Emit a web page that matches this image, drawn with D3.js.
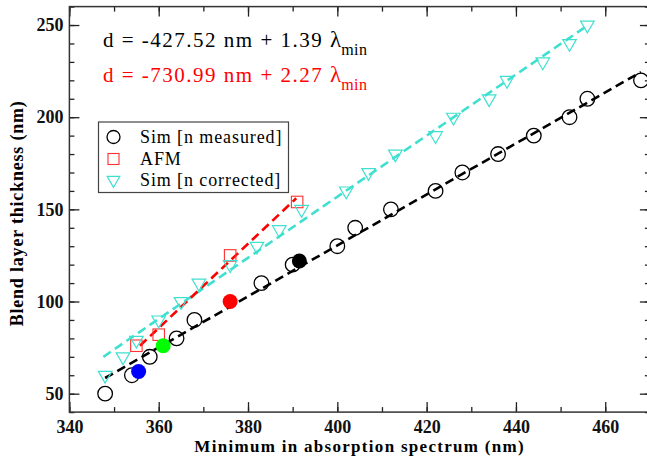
<!DOCTYPE html>
<html>
<head>
<meta charset="utf-8">
<script src="https://cdn.jsdelivr.net/npm/d3@7"></script>
<style>
  body { margin: 0; background: #fff; }
  svg { display: block; }
  svg text { font-family: "Liberation Serif", "DejaVu Serif", serif; }
</style>
</head>
<body>
<div id="vis"></div>
<script>
// data
var simMeasuredX = [348, 354, 358, 364, 368, 383, 390, 400, 404, 412, 422, 428, 436, 444, 452, 456, 468];
var simMeasuredY = [50, 60, 70, 80, 90, 110, 120, 130, 140, 150, 160, 170, 180, 190, 200, 210, 220];

var afmX = [355, 360, 376, 391];
var afmY = [76, 82, 125, 154];

var simCorrectedX = [348, 352, 355, 360, 365, 369, 376, 382, 387, 392, 402, 407, 413, 422, 426, 434, 438, 446, 452, 456];
var simCorrectedY = [60, 70, 79, 90, 100, 110, 120, 130, 139, 150, 160, 170, 180, 190, 200, 210, 220, 230, 240, 250];

// highlighted (filled) points
var filledX = [355.5, 361, 376, 391.5];
var filledY = [62, 76, 100, 122];
var filledColors = ["#0000ff", "#00ff00", "#ff0000", "#000000"];

// dashed fit lines (end points)
var fitBlackX = [348, 468], fitBlackY = [58.5, 224.5];
var fitRedX = [355.8, 390.8], fitRedY = [76, 156];
var fitCyanX = [347.6, 456.2], fitCyanY = [70, 250];

var xMajor = [340, 360, 380, 400, 420, 440, 460];
var yMajor = [50, 100, 150, 200, 250];

var legendLabels = ["Sim [n measured]", "AFM", "Sim [n corrected]"];

var width = 647,
    height = 459;

var svg = d3.select("#vis").append("svg")
    .attr("width", width)
    .attr("height", height);

var x = d3.scaleLinear().domain([340, 470]).range([69.4, 649.9]);
var y = d3.scaleLinear().domain([40, 260]).range([412.1, 6.6]);

var cyan = "#40e0d0";

// axes - ticks point inward on all four sides
var xMinor = d3.range(340, 471, 10);
var yMinor = d3.range(40, 261, 10);

function styleAxis(g) {
    g.attr("font-family", null);
    g.select(".domain").remove();
    g.selectAll(".tick line").attr("stroke", "#222").attr("stroke-width", 1.3);
}

svg.append("g").attr("transform", "translate(0," + y(40) + ")")
    .call(d3.axisBottom(x).tickValues(xMinor).tickSize(-5).tickFormat(""))
    .call(styleAxis);
svg.append("g").attr("transform", "translate(0," + y(40) + ")")
    .call(d3.axisBottom(x).tickValues(xMajor).tickSize(-10).tickPadding(8).tickFormat(d3.format("d")))
    .call(styleAxis)
    .selectAll("text")
    .attr("font-size", 18).attr("font-weight", "bold").attr("fill", "#111");

svg.append("g").attr("transform", "translate(0," + y(260) + ")")
    .call(d3.axisTop(x).tickValues(xMinor).tickSize(-5).tickFormat(""))
    .call(styleAxis);
svg.append("g").attr("transform", "translate(0," + y(260) + ")")
    .call(d3.axisTop(x).tickValues(xMajor).tickSize(-10).tickFormat(""))
    .call(styleAxis);

svg.append("g").attr("transform", "translate(" + x(340) + ",0)")
    .call(d3.axisLeft(y).tickValues(yMinor).tickSize(-5).tickFormat(""))
    .call(styleAxis);
svg.append("g").attr("transform", "translate(" + x(340) + ",0)")
    .call(d3.axisLeft(y).tickValues(yMajor).tickSize(-10).tickPadding(6).tickFormat(d3.format("d")))
    .call(styleAxis)
    .selectAll("text")
    .attr("font-size", 18).attr("font-weight", "bold").attr("fill", "#111");

svg.append("g").attr("transform", "translate(" + x(470) + ",0)")
    .call(d3.axisRight(y).tickValues(yMinor).tickSize(-5).tickFormat(""))
    .call(styleAxis);
svg.append("g").attr("transform", "translate(" + x(470) + ",0)")
    .call(d3.axisRight(y).tickValues(yMajor).tickSize(-10).tickFormat(""))
    .call(styleAxis);

// frame
svg.append("rect")
    .attr("x", x(340)).attr("y", y(260))
    .attr("width", x(470) - x(340)).attr("height", y(40) - y(260))
    .attr("fill", "none").attr("stroke", "#333").attr("stroke-width", 1.5);

// axis titles
svg.append("text")
    .attr("x", (x(340) + x(470)) / 2).attr("y", 452)
    .attr("text-anchor", "middle")
    .attr("font-size", 17).attr("font-weight", "bold")
    .attr("letter-spacing", 1.3)
    .text("Minimum in absorption spectrum (nm)");

svg.append("text")
    .attr("transform", "translate(23," + ((y(40) + y(260)) / 2 + 4) + ") rotate(-90)")
    .attr("text-anchor", "middle")
    .attr("font-size", 18).attr("font-weight", "bold")
    .attr("letter-spacing", 0.8)
    .text("Blend layer thickness (nm)");

// fit lines
var line = d3.line().x(function(d) { return x(d[0]); }).y(function(d) { return y(d[1]); });

function drawFit(xs, ys, color) {
    svg.append("path")
        .datum(d3.zip(xs, ys))
        .attr("d", line)
        .attr("fill", "none")
        .attr("stroke", color)
        .attr("stroke-width", 2.6)
        .attr("stroke-dasharray", "9,5");
}
drawFit(fitCyanX, fitCyanY, cyan);
drawFit(fitBlackX, fitBlackY, "#000");
drawFit(fitRedX, fitRedY, "#ff0000");

// markers
svg.append("g").selectAll("circle")
    .data(d3.zip(simMeasuredX, simMeasuredY))
    .enter().append("circle")
    .attr("cx", function(d) { return x(d[0]); })
    .attr("cy", function(d) { return y(d[1]); })
    .attr("r", 7.3)
    .attr("fill", "none")
    .attr("stroke", "#000")
    .attr("stroke-width", 1.3);

var sq = 11.5;
svg.append("g").selectAll("rect")
    .data(d3.zip(afmX, afmY))
    .enter().append("rect")
    .attr("x", function(d) { return x(d[0]) - sq / 2; })
    .attr("y", function(d) { return y(d[1]) - sq / 2; })
    .attr("width", sq).attr("height", sq)
    .attr("fill", "none")
    .attr("stroke", "#ff3030")
    .attr("stroke-width", 1.1);

var tri = d3.symbol().type(d3.symbolTriangle).size(80);
svg.append("g").selectAll("path")
    .data(d3.zip(simCorrectedX, simCorrectedY))
    .enter().append("path")
    .attr("d", tri)
    .attr("transform", function(d) { return "translate(" + x(d[0]) + "," + y(d[1]) + ") rotate(180)"; })
    .attr("fill", "none")
    .attr("stroke", cyan)
    .attr("stroke-width", 1.2);

svg.append("g").selectAll("circle")
    .data(d3.zip(filledX, filledY, filledColors))
    .enter().append("circle")
    .attr("cx", function(d) { return x(d[0]); })
    .attr("cy", function(d) { return y(d[1]); })
    .attr("r", 7.5)
    .attr("fill", function(d) { return d[2]; });

// equations
function equation(yPos, color, body) {
    var t = svg.append("text")
        .attr("x", 103).attr("y", yPos)
        .attr("font-size", 21)
        .attr("fill", color);
    t.append("tspan").attr("letter-spacing", 1.5).text(body + " ");
    t.append("tspan").attr("font-size", 23).text("\u03bb");
    t.append("tspan").attr("dy", 8).attr("font-size", 16).attr("letter-spacing", 0.5).text("min");
}
equation(47, "#000", "d = -427.52 nm + 1.39");
equation(82, "#ff0000", "d = -730.99 nm + 2.27");

// legend
var legend = svg.append("g");
legend.append("rect")
    .attr("x", 98.5).attr("y", 122)
    .attr("width", 190).attr("height", 70.5)
    .attr("fill", "#fff").attr("stroke", "#444").attr("stroke-width", 1.2);

var rowY = [137, 159, 180];
legend.append("circle").attr("cx", 113.5).attr("cy", rowY[0]).attr("r", 6.5)
    .attr("fill", "none").attr("stroke", "#000").attr("stroke-width", 1.3);
legend.append("rect").attr("x", 108).attr("y", rowY[1] - 5.5).attr("width", 11).attr("height", 11)
    .attr("fill", "none").attr("stroke", "#ff3030").attr("stroke-width", 1.1);
legend.append("path").attr("d", d3.symbol().type(d3.symbolTriangle).size(70))
    .attr("transform", "translate(113.5," + rowY[2] + ") rotate(180)")
    .attr("fill", "none").attr("stroke", cyan).attr("stroke-width", 1.2);

legend.selectAll("text.lab")
    .data(legendLabels)
    .enter().append("text")
    .attr("class", "lab")
    .attr("x", 140)
    .attr("y", function(d, i) { return rowY[i] + 6; })
    .attr("font-size", 18)
    .attr("letter-spacing", 0.9)
    .text(function(d) { return d; });
</script>
</body>
</html>
